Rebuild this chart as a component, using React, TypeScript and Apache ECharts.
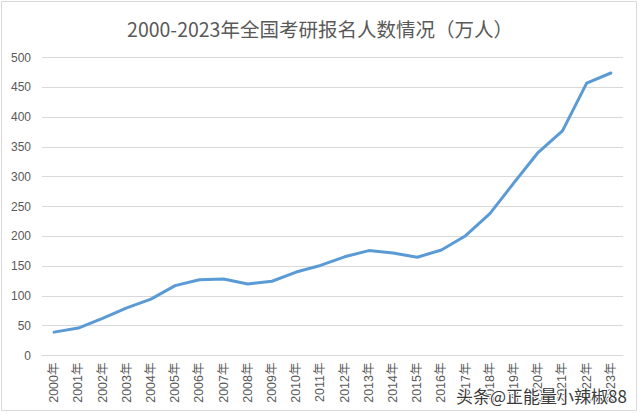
import React, { useEffect, useRef } from "react";
import * as echarts from "echarts";

const titleText = "2000-2023年全国考研报名人数情况（万人）";
const years = [
  "2000年", "2001年", "2002年", "2003年", "2004年", "2005年", "2006年", "2007年",
  "2008年", "2009年", "2010年", "2011年", "2012年", "2013年", "2014年", "2015年",
  "2016年", "2017年", "2018年", "2019年", "2020年", "2021年", "2022年", "2023年",
];
const applicants = [
  39.2, 46, 62.4, 79.9, 94.5, 117.2, 127.1, 128.2, 120, 124.6, 140, 151.1,
  165.6, 176, 172, 164.9, 177, 201, 238, 290, 341, 377, 457, 474,
];
const yTicks = { min: 0, max: 500, interval: 50 };
const watermark = "头条@正能量小辣椒88";

export default function App() {
  const ref = useRef<HTMLDivElement>(null);
  useEffect(() => {
    if (!ref.current) return;
    const chart = echarts.init(ref.current, undefined, { renderer: "svg" });
    chart.setOption({
      animation: false,
      backgroundColor: "#ffffff",
      title: {
        text: titleText,
        left: "center",
        top: 14,
        textStyle: {
          fontSize: 19.5,
          fontWeight: "normal",
          color: "#595959",
          fontFamily: "'Noto Sans CJK SC', 'Liberation Sans', sans-serif",
        },
      },
      grid: { left: 42, right: 17, top: 57.5, bottom: 58.5, containLabel: false },
      xAxis: {
        type: "category",
        data: years,
        boundaryGap: true,
        axisLine: { show: true, lineStyle: { color: "#d9d9d9", width: 1 } },
        axisTick: { show: false },
        axisLabel: {
          rotate: 90,
          interval: 0,
          margin: 7,
          fontSize: 12.5,
          color: "#595959",
          fontFamily: "'Liberation Sans', 'Noto Sans CJK SC', sans-serif",
        },
      },
      yAxis: {
        type: "value",
        min: yTicks.min,
        max: yTicks.max,
        interval: yTicks.interval,
        axisLine: { show: false },
        axisTick: { show: false },
        splitLine: { show: true, lineStyle: { color: "#d9d9d9", width: 1 } },
        axisLabel: {
          margin: 11,
          fontSize: 12,
          color: "#595959",
          fontFamily: "'Liberation Sans', sans-serif",
        },
      },
      series: [
        {
          type: "line",
          data: applicants,
          symbol: "none",
          smooth: false,
          lineStyle: { color: "#5B9BD5", width: 3, cap: "round", join: "round" },
          itemStyle: { color: "#5B9BD5" },
          z: 3,
        },
      ],
      graphic: [
        {
          type: "rect",
          shape: { x: 1.5, y: 1.5, width: 635, height: 409 },
          style: { fill: "none", stroke: "#d9d9d9", lineWidth: 1 },
          silent: true,
          z: 0,
        },
        {
          type: "text",
          x: 456,
          y: 395,
          style: {
            text: watermark,
            fontSize: 17,
            fontFamily: "'Noto Sans CJK SC', sans-serif",
            fill: "#3a3a3a",
            stroke: "#ffffff",
            lineWidth: 2,
            textVerticalAlign: "middle",
          },
          z: 100,
        },
      ],
    });
    return () => chart.dispose();
  }, []);
  return (
    <div
      ref={ref}
      style={{ position: "fixed", left: 0, top: 0, width: 640, height: 414 }}
    />
  );
}
